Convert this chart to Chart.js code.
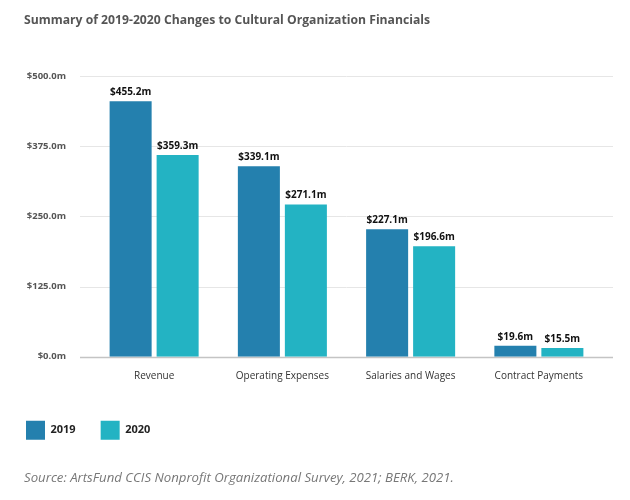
<!DOCTYPE html>
<html>
<head>
<meta charset="utf-8">
<script src="https://cdn.jsdelivr.net/npm/chart.js@4"></script>
<style>
html,body{margin:0;padding:0;background:#fff;}
#wrap{position:relative;width:630px;height:500px;}
</style>
</head>
<body>
<div id="wrap"><canvas id="c" width="630" height="500"></canvas></div>
<script>
const categories = ["Revenue", "Operating Expenses", "Salaries and Wages", "Contract Payments"];
const values2019 = [455.2, 339.1, 227.1, 19.6];
const values2020 = [359.3, 271.1, 196.6, 15.5];
const seriesNames = ["2019", "2020"];
const yTicks = [0, 125, 250, 375, 500];
const titleText = "Summary of 2019-2020 Changes to Cultural Organization Financials";
const sourceText = "Source: ArtsFund CCIS Nonprofit Organizational Survey, 2021; BERK, 2021.";

const fmt = v => "$" + v.toFixed(1) + "m";

const gridPlugin = {
  id: "gridExt",
  beforeDatasetsDraw(chart) {
    const {ctx, chartArea, scales} = chart;
    const y = scales.y;
    ctx.save();
    yTicks.forEach(t => {
      const py = Math.round(y.getPixelForValue(t)) + 0.5;
      ctx.beginPath();
      ctx.lineWidth = t === 0 ? 1.5 : 1;
      ctx.strokeStyle = t === 0 ? "#c4c4c4" : "#e6e6e6";
      ctx.moveTo(chartArea.left - 10, py);
      ctx.lineTo(chartArea.right + 10, py);
      ctx.stroke();
    });
    ctx.restore();
  }
};

const legendShift = {
  id: "legendShift",
  afterLayout(chart) {
    const lg = chart.legend;
    if (lg) {
      lg.left -= 23; lg.right -= 23;
      lg.top += 1; lg.bottom += 1;
    }
  }
};

const labelPlugin = {
  id: "barLabels",
  afterDatasetsDraw(chart) {
    const {ctx} = chart;
    ctx.save();
    ctx.font = "bold 10px 'Open Sans', sans-serif";
    ctx.fillStyle = "#111";
    ctx.textAlign = "center";
    ctx.textBaseline = "bottom";
    chart.data.datasets.forEach((ds, di) => {
      const meta = chart.getDatasetMeta(di);
      meta.data.forEach((bar, i) => {
        ctx.fillText(fmt(ds.data[i]), bar.x, bar.y - 4);
      });
    });
    ctx.restore();
  }
};

new Chart(document.getElementById("c"), {
  type: "bar",
  data: {
    labels: categories,
    datasets: [
      {label: seriesNames[0], data: values2019, backgroundColor: "#2480ae"},
      {label: seriesNames[1], data: values2020, backgroundColor: "#23b3c3"}
    ]
  },
  options: {
    responsive: false,
    animation: false,
    devicePixelRatio: 1,
    layout: {padding: {left: 24, right: 27, top: 0, bottom: 0}},
    categoryPercentage: 0.733,
    barPercentage: 0.894,
    scales: {
      x: {
        grid: {display: false, drawTicks: false},
        border: {display: false},
        ticks: {
          color: "#333",
          padding: 13,
          font: {family: "'Open Sans', sans-serif", size: 10}
        }
      },
      y: {
        min: 0, max: 500,
        afterBuildTicks: s => { s.ticks = yTicks.map(v => ({value: v})); },
        afterFit: s => { s.width = 66; },
        grid: {display: false, drawTicks: false},
        border: {display: false},
        ticks: {
          color: "#555",
          padding: 24,
          font: {family: "'Open Sans', sans-serif", size: 9.5, weight: "bold"},
          callback: v => fmt(v)
        }
      }
    },
    plugins: {
      title: {
        display: true,
        text: titleText,
        align: "start",
        color: "#555",
        font: {family: "'Open Sans', sans-serif", size: 12.2, weight: "bold"},
        padding: {top: 13, bottom: 48.4}
      },
      subtitle: {
        display: true,
        position: "bottom",
        text: sourceText,
        align: "start",
        color: "#777",
        font: {family: "'Open Sans', sans-serif", size: 13.2, style: "italic"},
        padding: {top: 22, bottom: 13.5}
      },
      legend: {
        position: "bottom",
        align: "start",
        labels: {
          boxWidth: 19,
          boxHeight: 19,
          padding: 25,
          color: "#222",
          font: {family: "'Open Sans', sans-serif", size: 11, weight: "bold"}
        }
      },
      tooltip: {enabled: false}
    }
  },
  plugins: [gridPlugin, labelPlugin, legendShift]
});
</script>
</body>
</html>
